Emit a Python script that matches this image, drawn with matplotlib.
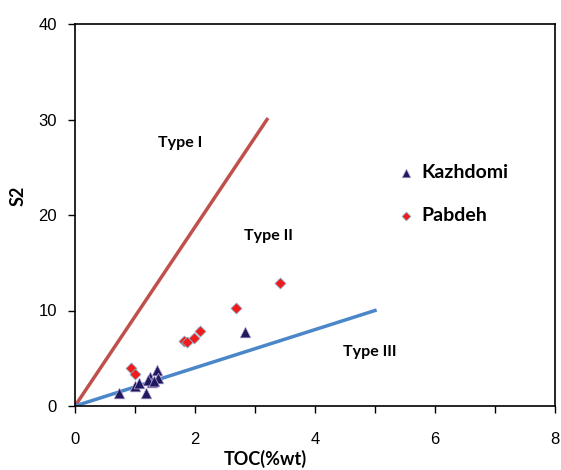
import matplotlib.pyplot as plt
from matplotlib.ticker import MultipleLocator

# Kazhdomi samples (TOC wt%, S2)
kaz_toc = [0.73, 1.18, 1.00, 1.07, 1.25, 1.37, 1.28, 1.39, 1.22, 1.32, 2.84]
kaz_s2 = [1.4, 1.35, 2.1, 2.4, 3.0, 3.8, 2.55, 2.9, 2.7, 2.6, 7.8]

# Pabdeh samples
pab_toc = [0.94, 1.00, 1.81, 1.87, 1.98, 2.09, 2.68, 3.42]
pab_s2 = [3.95, 3.4, 6.8, 6.75, 7.1, 7.9, 10.3, 12.9]

# kerogen type boundary lines
type1_x = [0, 3.2]
type1_y = [0, 30]
type3_x = [0, 5]
type3_y = [0, 10]

label_font = "Lato"

fig = plt.figure(figsize=(5.61, 4.70), dpi=100)
ax = fig.add_axes([75 / 561, 64 / 470, 480 / 561, 382 / 470])

ax.plot(type1_x, type1_y, color="#c0504d", lw=2.5, zorder=2)
ax.plot(type3_x, type3_y, color="#4a86c8", lw=2.5, zorder=2)

ax.scatter(kaz_toc, kaz_s2, marker="^", s=60, color="#1f1a5e",
           edgecolors="#b9a6d6", linewidths=0.5, zorder=3, label="Kazhdomi")
ax.scatter(pab_toc, pab_s2, marker="D", s=32, color="#ee1c1c",
           edgecolors="#7fc4e0", linewidths=0.5, zorder=3, label="Pabdeh")

ax.text(1.75, 27.5, "Type I", fontsize=11.5, fontweight="bold", family=label_font,
        ha="center", va="center")
ax.text(3.22, 17.8, "Type II", fontsize=11.5, fontweight="bold", family=label_font,
        ha="center", va="center")
ax.text(4.92, 5.7, "Type III", fontsize=11.5, fontweight="bold", family=label_font,
        ha="center", va="center")

ax.set_xlim(0, 8)
ax.set_ylim(0, 40)
ax.xaxis.set_major_locator(MultipleLocator(2))
ax.xaxis.set_minor_locator(MultipleLocator(1))
ax.yaxis.set_major_locator(MultipleLocator(10))
ax.tick_params(which="both", direction="out", length=5, width=1)
ax.tick_params(axis="y", labelsize=12, pad=8)
ax.tick_params(axis="x", labelsize=12, pad=14)
for lab in ax.get_xticklabels() + ax.get_yticklabels():
    lab.set_family("Liberation Sans")
for sp in ax.spines.values():
    sp.set_linewidth(1.2)

ax.set_xlabel("TOC(%wt)", fontsize=13, fontweight="bold", family=label_font)
ax.xaxis.set_label_coords(0.396, -0.115)
ax.set_ylabel("S2", fontsize=13, fontweight="bold", family=label_font)
ax.yaxis.set_label_coords(-0.10, 0.55)

ax.legend(loc="center left", bbox_to_anchor=(0.673, 0.555), frameon=False,
          borderpad=0, borderaxespad=0, handlelength=0.8,
          handletextpad=0.4, labelspacing=1.3, markerscale=0.8,
          prop={"family": label_font, "weight": "bold", "size": 14})

fig.savefig("out.png", dpi=100)
